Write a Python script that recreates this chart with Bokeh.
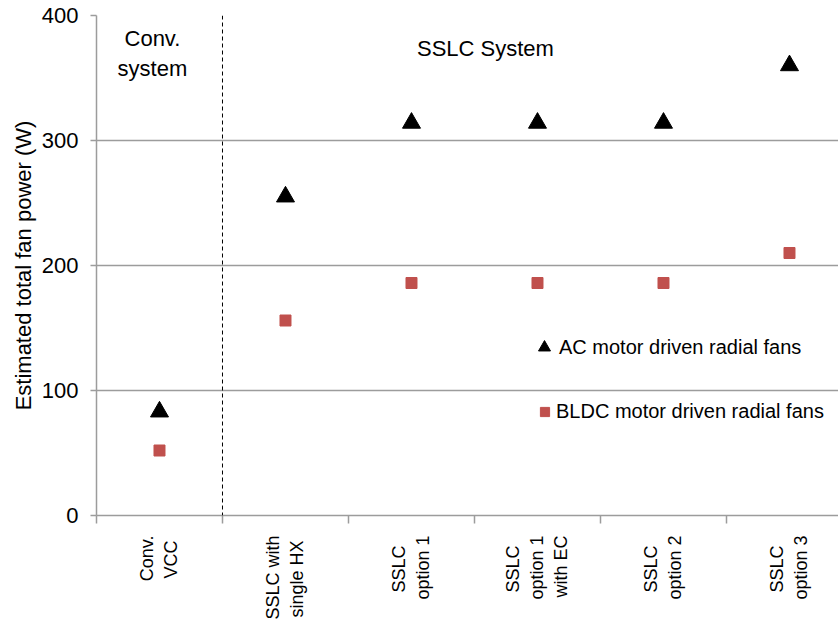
import math
from bokeh.plotting import figure
from bokeh.models import (ColumnDataSource, FixedTicker, Span, Label, Legend, LegendItem, Range1d)
from bokeh.embed import file_html
from bokeh.resources import INLINE

NB = "\u00a0"
# category labels (lines are centred in the reference; short lines padded so they centre)
categories = ["Conv.\nVCC" + NB, "SSLC with\nsingle HX" + NB, "SSLC" + NB * 2 + "\noption 1",
              "SSLC" + NB * 2 + "\noption 1\nwith EC", "SSLC" + NB * 2 + "\noption 2",
              "SSLC" + NB * 2 + "\noption 3"]
ac_power = [83, 255, 314, 314, 314, 360]
bldc_power = [52, 156, 186, 186, 186, 210]
y_ticks = [0, 100, 200, 300, 400]

FONT = "Liberation Sans"
GRAY = "#9c9c9c"

xpos = list(range(len(categories)))
src = ColumnDataSource(dict(x=xpos, ac=ac_power, bldc=bldc_power))

p = figure(width=838, height=623, output_backend="svg", toolbar_location=None,
           x_range=Range1d(-0.5, 5.389), y_range=Range1d(0, 400),
           min_border_left=96, min_border_right=0, min_border_top=15, min_border_bottom=108)
p.outline_line_color = None
p.background_fill_color = "white"
p.border_fill_color = "white"

# grid
p.xgrid.grid_line_color = None
p.ygrid.grid_line_color = GRAY
p.ygrid.grid_line_width = 1.5
p.ygrid.ticker = FixedTicker(ticks=y_ticks)

# y axis
p.yaxis.ticker = FixedTicker(ticks=y_ticks)
p.yaxis.axis_label = "Estimated total fan power (W)"
p.yaxis.axis_label_text_font = FONT
p.yaxis.axis_label_text_font_size = "22px"
p.yaxis.axis_label_text_font_style = "normal"
p.yaxis.axis_label_text_color = "black"
p.yaxis.axis_label_standoff = 3
p.yaxis.major_label_text_font = FONT
p.yaxis.major_label_text_font_size = "22px"
p.yaxis.major_label_text_color = "black"
p.yaxis.major_label_standoff = 12
p.yaxis.axis_line_color = GRAY
p.yaxis.axis_line_width = 1.5
p.yaxis.major_tick_line_color = GRAY
p.yaxis.major_tick_line_width = 1.5
p.yaxis.major_tick_out = 6
p.yaxis.major_tick_in = 0
p.yaxis.minor_tick_line_color = None

# x axis: labels at centres, tick marks at boundaries
bounds = [i - 0.5 for i in range(len(categories) + 1)]
p.xaxis.ticker = FixedTicker(ticks=xpos, minor_ticks=bounds)
p.xaxis.major_label_overrides = {i: c for i, c in zip(xpos, categories)}
p.xaxis.major_label_orientation = math.pi / 2
p.xaxis.major_label_text_font = FONT
p.xaxis.major_label_text_font_size = "18px"
p.xaxis.major_label_text_color = "black"
p.xaxis.major_label_standoff = 12
p.xaxis.major_tick_line_color = None
p.xaxis.major_tick_out = 0
p.xaxis.major_tick_in = 0
p.xaxis.minor_tick_line_color = GRAY
p.xaxis.minor_tick_line_width = 1.5
p.xaxis.minor_tick_out = 8
p.xaxis.minor_tick_in = 0
p.xaxis.axis_line_color = GRAY
p.xaxis.axis_line_width = 1.5

# separator between conventional and SSLC systems
p.add_layout(Span(location=bounds[1], dimension="height", line_color="black",
                  line_width=1, line_dash="4 3"))

r_ac = p.scatter("x", "ac", source=src, marker="triangle", size=18,
                 fill_color="black", line_color="black")
r_bldc = p.scatter("x", "bldc", source=src, marker="square", size=11,
                   fill_color="#c0504d", line_color="#c0504d")

leg_ac = Legend(items=[LegendItem(label="AC motor driven radial fans", renderers=[r_ac])],
                location=(433, 153), glyph_width=30, glyph_height=30, label_height=20,
                label_standoff=0, padding=0, margin=0, border_line_color=None,
                background_fill_alpha=0, label_text_font=FONT, label_text_font_size="20px",
                label_text_color="black")
leg_bldc = Legend(items=[LegendItem(label="BLDC motor driven radial fans", renderers=[r_bldc])],
                  location=(437, 92), glyph_width=23, glyph_height=23, label_height=20,
                  label_standoff=0, padding=0, margin=0, border_line_color=None,
                  background_fill_alpha=0, label_text_font=FONT, label_text_font_size="20px",
                  label_text_color="black")
p.add_layout(leg_ac, "center")
p.add_layout(leg_bldc, "center")

p.add_layout(Label(x=-0.056, y=370, text="Conv.\nsystem", text_align="center",
                   text_baseline="middle", text_font=FONT, text_font_size="22px",
                   text_color="black"))
p.add_layout(Label(x=2.587, y=374, text="SSLC System", text_align="center",
                   text_baseline="middle", text_font=FONT, text_font_size="22px",
                   text_color="black"))

open("out.html", "w").write(file_html(p, INLINE))
